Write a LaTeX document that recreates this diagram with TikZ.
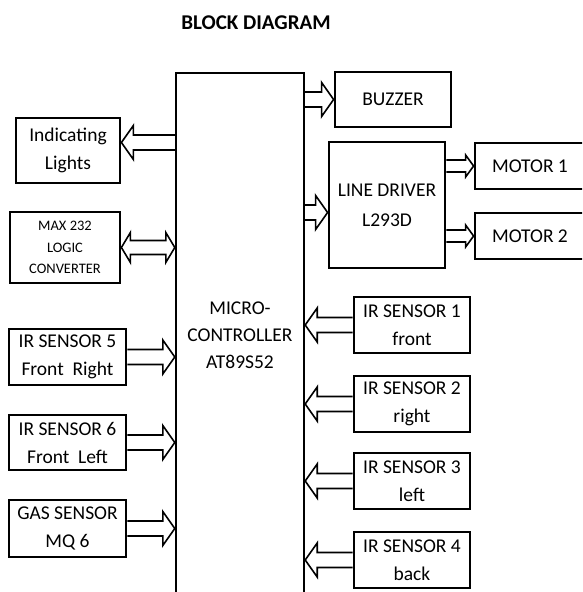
\documentclass[tikz,border=0pt]{standalone}
\usepackage{fontspec}
\setmainfont{Carlito}
\usetikzlibrary{calc}

\tikzset{
  blk/.style={draw, line width=2.8pt, inner sep=0pt, align=center, font=\fontsize{19.5}{28}\selectfont},
  fatw/.store in=\fatw, fath/.store in=\fath, fatl/.store in=\fatl,
  fatw=7.5, fath=17, fatl=12,
  fat arrow/.style={draw, line width=1.6pt, to path={
    ($(\tikztostart)+(0,\fatw)$) -- ($(\tikztotarget)!\fatl pt!(\tikztostart)+(0,\fatw)$)
    -- ($(\tikztotarget)!\fatl pt!(\tikztostart)+(0,\fath)$) -- (\tikztotarget)
    -- ($(\tikztotarget)!\fatl pt!(\tikztostart)+(0,-\fath)$)
    -- ($(\tikztotarget)!\fatl pt!(\tikztostart)+(0,-\fatw)$) -- ($(\tikztostart)+(0,-\fatw)$)}},
  fat both/.style={draw, line width=1.6pt, to path={
    ($(\tikztostart)!\fatl pt!(\tikztotarget)+(0,\fatw)$) -- ($(\tikztotarget)!\fatl pt!(\tikztostart)+(0,\fatw)$)
    -- ($(\tikztotarget)!\fatl pt!(\tikztostart)+(0,\fath)$) -- (\tikztotarget)
    -- ($(\tikztotarget)!\fatl pt!(\tikztostart)+(0,-\fath)$)
    -- ($(\tikztotarget)!\fatl pt!(\tikztostart)+(0,-\fatw)$) -- ($(\tikztostart)!\fatl pt!(\tikztotarget)+(0,-\fatw)$)
    -- ($(\tikztostart)!\fatl pt!(\tikztotarget)+(0,-\fath)$) -- (\tikztostart)
    -- ($(\tikztostart)!\fatl pt!(\tikztotarget)+(0,\fath)$) -- cycle}},
}

\begin{document}
\begin{tikzpicture}[x=1pt,y=-1pt]
        \clip (0,0) rectangle (582,592);
        \node[font=\fontsize{21}{24}\selectfont\bfseries] (title) at (256,23) {BLOCK DIAGRAM};

        % controller in the middle
        \node[draw, line width=2.4pt, inner sep=0pt, align=center, minimum width=128, minimum height=524,
              font=\fontsize{19.5}{27}\selectfont] (micro) at (240,335) {MICRO-\\CONTROLLER\\AT89S52};

        % left column
        \node[blk, minimum width=104, minimum height=65] (lights) at (68,150.5) {Indicating\\Lights};
        \node[blk, minimum width=110, minimum height=71, font=\fontsize{14.5}{21.5}\selectfont] (max) at (65,247.5) {MAX 232\\LOGIC\\CONVERTER};
        \node[blk, minimum width=117, minimum height=56] (ir5) at (67.5,357) {IR SENSOR 5\\Front\ \ Right};
        \node[blk, minimum width=117, minimum height=55] (ir6) at (67.5,442.5) {IR SENSOR 6\\Front\ \ Left};
        \node[blk, minimum width=117, minimum height=57] (gas) at (67.5,528.5) {GAS SENSOR\\MQ 6};

        % right column
        \node[blk, minimum width=116, minimum height=55] (buzzer) at (393,99.5) {BUZZER};
        \node[blk, minimum width=116, minimum height=126, font=\fontsize{19.5}{30}\selectfont] (driver) at (387,205) {LINE DRIVER\\L293D};
        \node[blk, minimum width=110, minimum height=46] (motor1) at (530,166) {MOTOR 1};
        \node[blk, minimum width=110, minimum height=46] (motor2) at (530,236) {MOTOR 2};
        \node[blk, minimum width=116, minimum height=56] (ir1) at (412,325) {IR SENSOR 1\\front};
        \node[blk, minimum width=116, minimum height=56] (ir2) at (412,404) {IR SENSOR 2\\right};
        \node[blk, minimum width=116, minimum height=56] (ir3) at (412,481) {IR SENSOR 3\\left};
        \node[blk, minimum width=116, minimum height=56] (ir4) at (412,560) {IR SENSOR 4\\back};

        % arrows
        \coordinate (lgtin) at ([yshift=8pt]lights.east);
        \coordinate (drvin) at ([yshift=-7.5pt]driver.west);
        \draw[fat arrow] (micro.west |- lgtin) to (lgtin);
        \draw[fat both, fatw=7, fath=15, fatl=9] (max.east) to (max.east -| micro.west);
        \foreach \s in {ir5,ir6,gas}
            \draw[fat arrow] (\s.east) to (\s.east -| micro.west);
        \draw[fat arrow] (micro.east |- buzzer.west) to (buzzer.west);
        \draw[fat arrow] (micro.east |- drvin) to (drvin);
        \draw[fat arrow, fatw=6, fath=11, fatl=8] (driver.east |- motor1.west) to (motor1.west);
        \draw[fat arrow, fatw=6, fath=11, fatl=8] (driver.east |- motor2.west) to (motor2.west);
        \foreach \s in {ir1,ir2,ir3,ir4}
            \draw[fat arrow] (\s.west) to (\s.west -| micro.east);
    \end{tikzpicture}
\end{document}
